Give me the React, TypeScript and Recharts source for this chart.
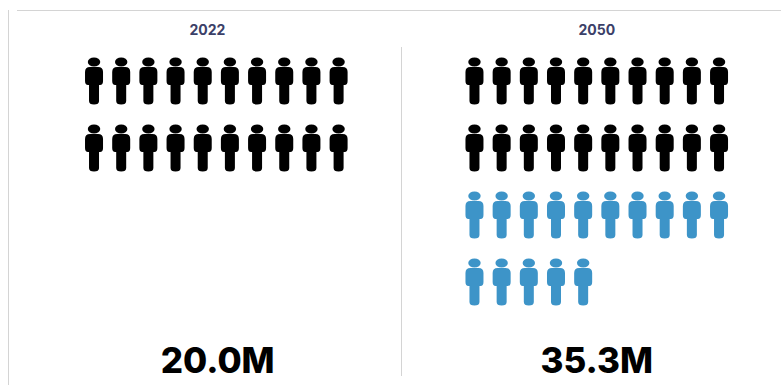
import { ScatterChart, Scatter, XAxis, YAxis } from 'recharts';

// One icon stands for one million people
const years = ['2022', '2050'];
const totals = [20.0, 35.3];
const currentPeople = [20, 20];
const addedPeople = [0, 15];

const PER_ROW = 10;
const PANEL_COLUMNS = 14; // column offset between the two panels

const RULE = '#d4d4d4';
const BLACK = '#000000';
const BLUE = '#3d94c8';

type Person = { column: number; row: number };

// Lays out `count` icons in rows, starting after `skip` icons
const layout = (panel: number, skip: number, count: number): Person[] => {
  const people: Person[] = [];
  for (let i = skip; i < skip + count; i++) {
    people.push({
      column: (i % PER_ROW) + panel * PANEL_COLUMNS,
      row: Math.floor(i / PER_ROW),
    });
  }
  return people;
};

const blackPeople = years.flatMap((_, p) => layout(p, 0, currentPeople[p]));
const bluePeople = years.flatMap((_, p) => layout(p, currentPeople[p], addedPeople[p]));

const PersonIcon = ({ cx, cy, fill }: any) => (
  <g transform={`translate(${cx},${cy})`} fill={fill}>
    <ellipse cx={0} cy={-19} rx={6.2} ry={4.6} />
    <path d="M-4,-14 H4 Q9,-14 9,-9 V0 Q9,4 6,4 H5 V20 Q5,23.5 0,23.5 Q-5,23.5 -5,20 V4 H-6 Q-9,4 -9,0 V-9 Q-9,-14 -4,-14 Z" />
  </g>
);

const App = () => (
  <div style={{ position: 'absolute', left: 0, top: 0, width: 781, height: 385, background: '#fff' }}>
    <ScatterChart width={781} height={385} margin={{ top: 0, right: 0, bottom: 0, left: 0 }}>
      <line x1={8.5} y1={10} x2={8.5} y2={385} stroke={RULE} />
      <line x1={17} y1={10.5} x2={781} y2={10.5} stroke={RULE} />
      <line x1={401.5} y1={47} x2={401.5} y2={376} stroke={RULE} />

      <XAxis
        xAxisId="years"
        orientation="top"
        type="number"
        dataKey="column"
        height={46}
        domain={[-3.46, 25.28]}
        ticks={[4.17, 18.5]}
        interval={0}
        tickFormatter={(_: number, i: number) => years[i]}
        axisLine={false}
        tickLine={false}
        tickMargin={5}
        tick={{ fontFamily: 'Inter', fontSize: 14, fontWeight: 700, fill: '#3b4068' }}
      />
      <XAxis
        xAxisId="totals"
        orientation="bottom"
        type="number"
        dataKey="column"
        height={55}
        domain={[-3.46, 25.28]}
        ticks={[4.55, 18.5]}
        interval={0}
        tickFormatter={(_: number, i: number) => `${totals[i].toFixed(1)}M`}
        axisLine={false}
        tickLine={false}
        tickMargin={12}
        tick={{ fontFamily: 'Inter', fontSize: 35, fontWeight: 800, fill: '#000' }}
      />
      <YAxis hide type="number" dataKey="row" reversed domain={[-0.522, 3.716]} />

      <Scatter xAxisId="years" data={blackPeople} fill={BLACK} shape={PersonIcon} isAnimationActive={false} />
      <Scatter xAxisId="totals" data={bluePeople} fill={BLUE} shape={PersonIcon} isAnimationActive={false} />
    </ScatterChart>
  </div>
);

export default App;
